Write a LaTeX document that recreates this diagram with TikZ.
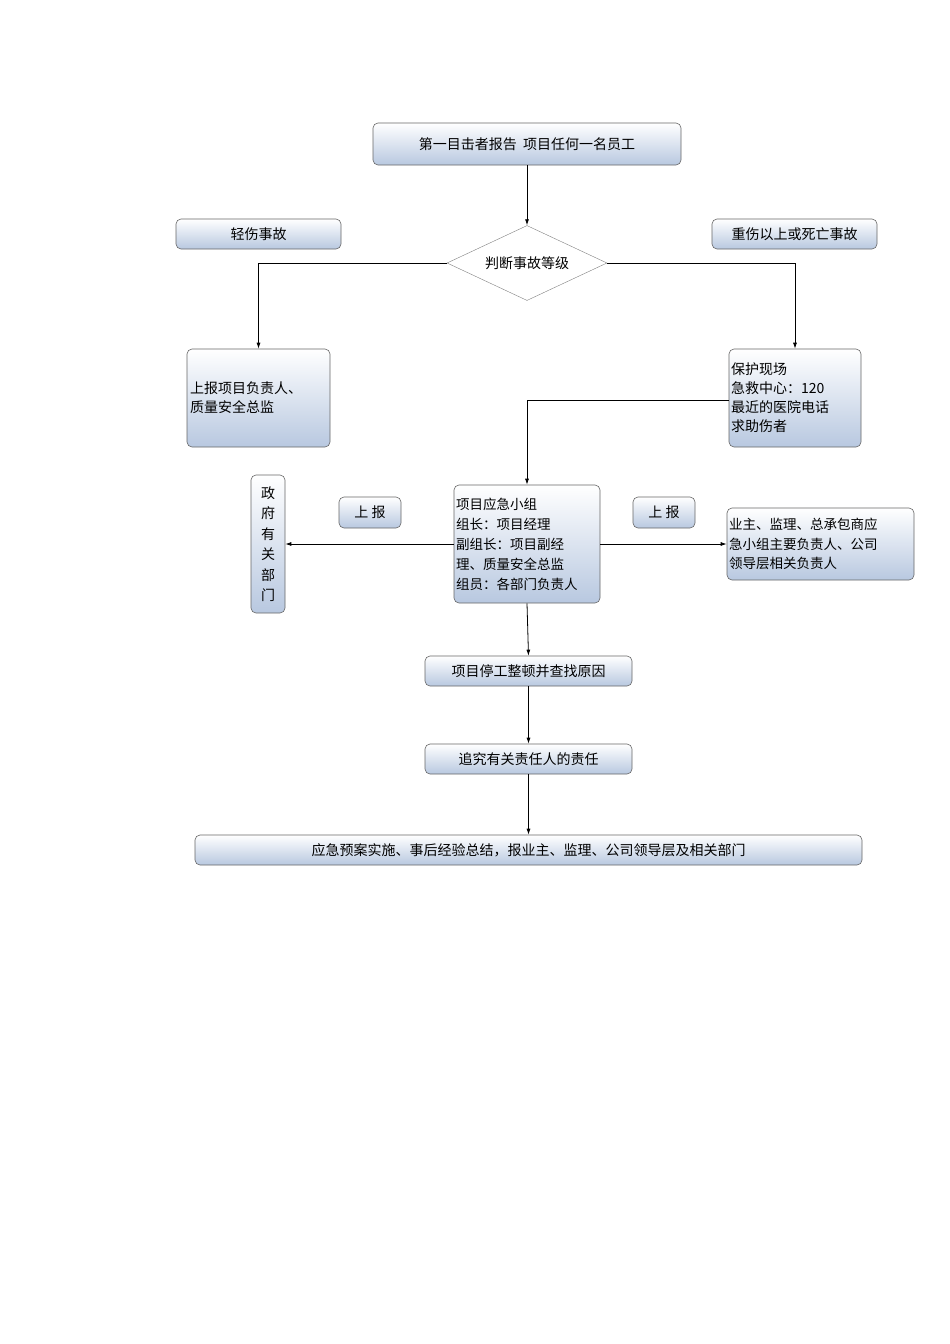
\documentclass[tikz,border=0pt]{standalone}
\usepackage{fontspec}
\setmainfont{Noto Sans CJK SC}
\usetikzlibrary{shapes.geometric,arrows.meta}
\begin{document}
\begin{tikzpicture}[x=1pt,y=-1pt,
 bx/.style={draw=black!60,rounded corners=5pt,top color=white,bottom color=blue!22!cyan!10!white!80!black!8,line width=0.6pt,inner sep=2pt,font=\fontsize{14}{19}\selectfont},
 ln/.style={line width=0.8pt},
 ar/.style={ln,-{Latex[length=6pt,width=4pt]}}]
\useasboundingbox (0,0) rectangle (950,1344);
\tikzset{bx/.append style={bottom color={rgb,255:red,184;green,200;blue,224}}}
\node[bx,minimum width=308,minimum height=42] (top) at (527,144) {第一目击者报告\ \ 项目任何一名员工};
\node[bx,minimum width=165,minimum height=30] (qs) at (258.5,234) {轻伤事故};
\node[bx,minimum width=165,minimum height=30] (zs) at (794.5,234) {重伤以上或死亡事故};
\node[draw=black!50,diamond,aspect=2.13,minimum width=160,minimum height=75,inner sep=0,fill=white,font=\fontsize{14}{19}\selectfont] (pd) at (527,263) {判断事故等级};
\node[bx,minimum width=143,minimum height=98,text width=137,align=left] (sb) at (258.5,398) {上报项目负责人、\\质量安全总监};
\node[bx,minimum width=132,minimum height=98,text width=128,align=left] (bh) at (795,398) {保护现场\\急救中心：120\\最近的医院电话\\求助伤者};
\node[bx,minimum width=146,minimum height=118,text width=142,align=left,font=\fontsize{13.5}{20}\selectfont] (xz) at (527,544) {项目应急小组\\组长：项目经理\\副组长：项目副经\\理、质量安全总监\\组员：各部门负责人};
\node[bx,minimum width=34,minimum height=138,text width=20,align=center,font=\fontsize{14}{20.5}\selectfont] (zf) at (268,544) {政\\府\\有\\关\\部\\门};
\node[bx,minimum width=62,minimum height=31] (sb1) at (370,512.5) {上\ 报};
\node[bx,minimum width=62,minimum height=31] (sb2) at (664,512.5) {上\ 报};
\node[bx,minimum width=185,minimum height=72,text width=183,align=left,font=\fontsize{13.5}{19.5}\selectfont] (yz) at (820.5,544) {业主、监理、总承包商应\\急小组主要负责人、公司\\领导层相关负责人};
\node[bx,minimum width=207,minimum height=30] (tg) at (528.5,671) {项目停工整顿并查找原因};
\node[bx,minimum width=207,minimum height=30] (zj) at (528.5,759) {追究有关责任人的责任};
\node[bx,minimum width=667,minimum height=30] (yj) at (528.5,850) {应急预案实施、事后经验总结，报业主、监理、公司领导层及相关部门};
\draw[ar] (top) -- (pd);
\draw[ar] (pd.west) -| (sb.north);
\draw[ar] (pd.east) -| (bh.north);
\coordinate (c1) at (bh.west |- 0,400);
\draw[ar] (c1) -| (xz.north);
\draw[ar] (xz.west) -- (zf.east);
\draw[ar] (xz.east) -- (yz.west);
\draw[ar] (xz.south) -- (tg.north);
\draw[ar] (tg) -- (zj);
\draw[ar] (zj) -- (yj);
\end{tikzpicture}
\end{document}
